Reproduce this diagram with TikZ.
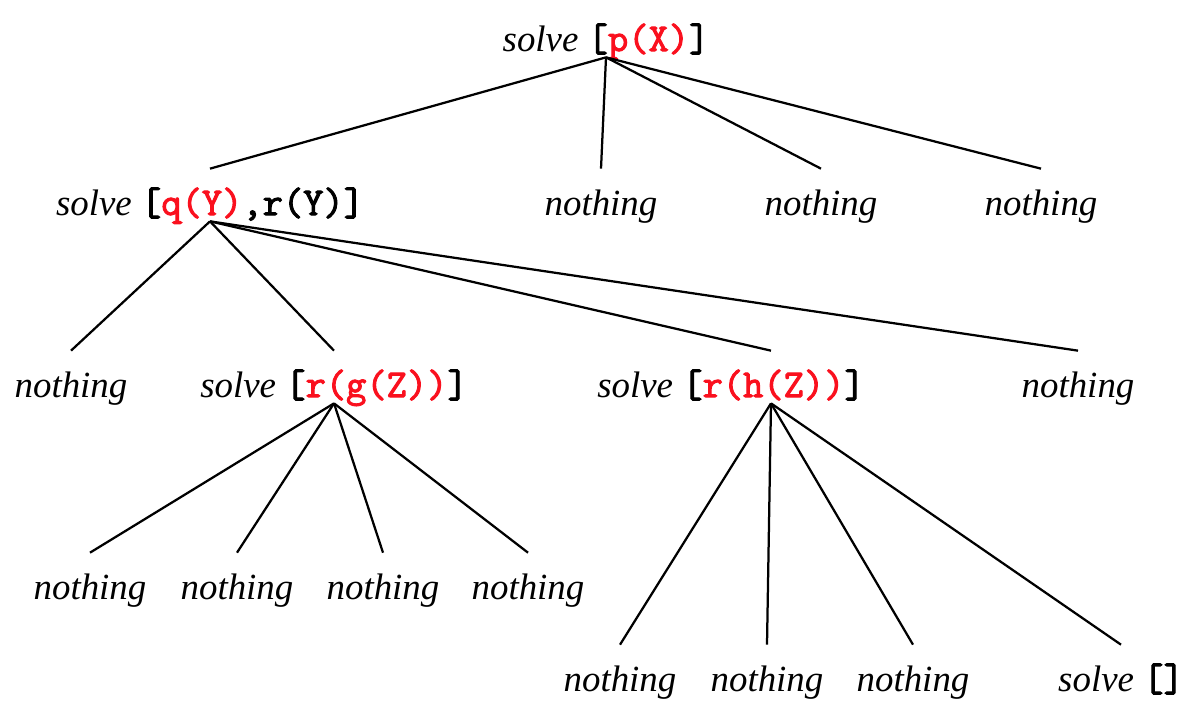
\documentclass[tikz,border=0pt]{standalone}
\usepackage{fontspec}
\setmainfont{Liberation Serif}
\setmonofont{Latin Modern Mono}[AutoFakeBold=2.6]
\definecolor{goalred}{RGB}{250,16,30}
\newcommand{\slv}{\textit{solve}}
\newcommand{\nth}{\textit{nothing}}
\newcommand{\goals}[1]{{\fontsize{22.4pt}{26pt}\selectfont\ttfamily\bfseries #1}}
\newcommand{\gl}[1]{\textcolor{goalred}{#1}}
\tikzset{
    term/.style={
        inner sep=0pt,
        anchor=base,
        text height=0.92cm,
        text depth=0.12cm,
        font=\fontsize{21pt}{25pt}\selectfont
    },
    branch/.style={
        line width=0.045cm
    }
}

\begin{document}
\begin{tikzpicture}[x=0.02cm,y=-0.02cm]
  \useasboundingbox (0,0) rectangle (1196,714);

  % top goal
  \node at (606,51) (root) [term] {\slv{} \goals{[\gl{p(X)}]}};

  % first level
  \node at (210,215) (sq) [term] {\slv{} \goals{[\gl{q(Y)},r(Y)]}};
  \node at (601,215) (n1) [term] {\nth};
  \node at (821,215) (n2) [term] {\nth};
  \node at (1041,215) (n3) [term] {\nth};
  \foreach \c in {sq,n1,n2,n3}
    \draw[branch] (root.south) -- (\c.north);

  % second level
  \node at (71,397) (n4) [term] {\nth};
  \node at (334,397) (rg) [term] {\slv{} \goals{[\gl{r(g(Z))}]}};
  \node at (731,397) (rh) [term] {\slv{} \goals{[\gl{r(h(Z))}]}};
  \node at (1078,397) (n5) [term] {\nth};
  \draw[branch] (sq.south) -- (n4.north);
  \draw[branch] (sq.south) -- (rg.north);
  \draw[branch] (sq.south) -- ([xshift=0.8cm]rh.north);
  \draw[branch] (sq.south) -- (n5.north);

  % under r(g(Z))
  \node at (90,599) (n6) [term] {\nth};
  \node at (237,599) (n7) [term] {\nth};
  \node at (383,599) (n8) [term] {\nth};
  \node at (528,599) (n9) [term] {\nth};
  \foreach \c in {n6,n7,n8,n9}
    \draw[branch] (rg.south) -- (\c.north);

  % under r(h(Z))
  \node at (620,691) (n10) [term] {\nth};
  \node at (767,691) (n11) [term] {\nth};
  \node at (913,691) (n12) [term] {\nth};
  \node at (1121,691) (sv) [term] {\slv{} \goals{[]}};
  \foreach \c in {n10,n11,n12,sv}
    \draw[branch] ([xshift=0.8cm]rh.south) -- (\c.north);

\end{tikzpicture}
\end{document}
